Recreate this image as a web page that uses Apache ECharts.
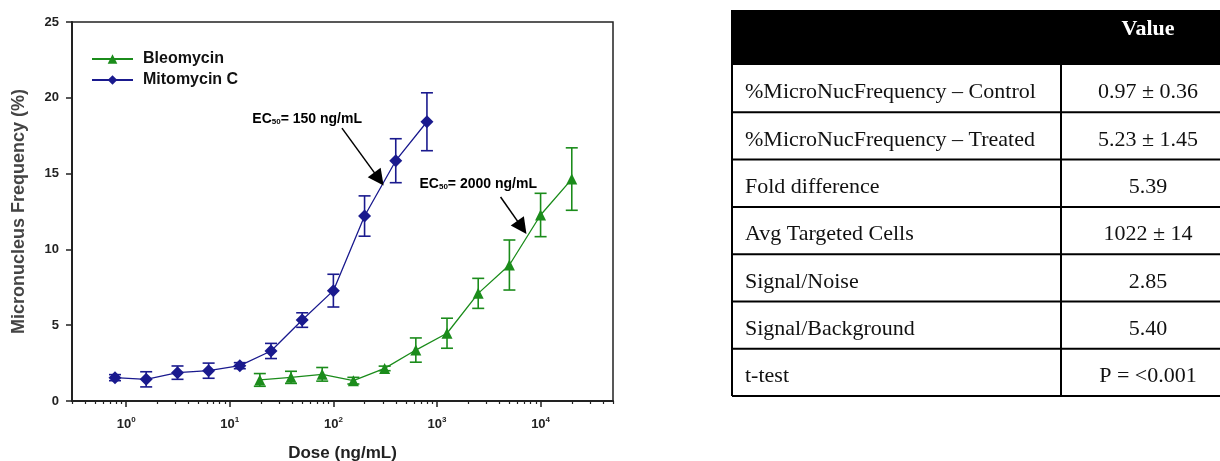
<!DOCTYPE html>
<html><head><meta charset="utf-8">
<script src="https://cdn.jsdelivr.net/npm/echarts@6/dist/echarts.min.js"></script>
<style>html,body{margin:0;padding:0;background:#fff}#c{width:1220px;height:461px}</style>
</head><body><div id="c"></div>
<script>
// ---- chart data ----
const bleoName = 'Bleomycin';
const bleoDose = [19.5, 39, 78, 156, 312.5, 625, 1250, 2500, 5000, 10000, 20000];
const bleoMean = [1.39, 1.56, 1.76, 1.34, 2.15, 3.36, 4.47, 7.10, 8.97, 12.27, 14.64];
const bleoErr  = [0.42, 0.40, 0.45, 0.22, 0.15, 0.80, 0.99, 0.99, 1.65, 1.43, 2.06];
const mitoName = 'Mitomycin C';
const mitoDose = [0.78, 1.56, 3.13, 6.25, 12.5, 25, 50, 100, 200, 400, 800];
const mitoMean = [1.54, 1.43, 1.87, 2.00, 2.33, 3.30, 5.34, 7.28, 12.20, 15.85, 18.42];
const mitoErr  = [0.20, 0.50, 0.44, 0.50, 0.20, 0.50, 0.48, 1.08, 1.33, 1.45, 1.91];
const yTickValues = [0, 5, 10, 15, 20, 25];
const xMajorTicks = [1, 10, 100, 1000, 10000];
const xTickExponents = ['0', '1', '2', '3', '4'];
const ec50Labels = ['150 ng/mL', '2000 ng/mL'];
// ---- table data ----
const tableHeader = ['', 'Value'];
const tableLabels = ['%MicroNucFrequency – Control', '%MicroNucFrequency – Treated', 'Fold difference',
  'Avg Targeted Cells', 'Signal/Noise', 'Signal/Background', 't-test'];
const tableValues = ['0.97 ± 0.36', '5.23 ± 1.45', '5.39', '1022 ± 14', '2.85', '5.40', 'P = <0.001'];

// ---- styles / layout ----
const GREEN = '#1b8c1b', BLUE = '#1a1a8e';
const SANS = 'Liberation Sans, Arial, sans-serif';
const SERIF = 'Liberation Serif, Times New Roman, serif';
const X_MIN = 0.3, X_MAX = 50000;

const xMinorTicks = [];
for (let k = -1; k <= 4; k++) for (let m = 2; m <= 9; m++) {
  const v = m * Math.pow(10, k);
  if (v >= X_MIN && v <= X_MAX) xMinorTicks.push(+v.toPrecision(3));
}

function pairs(xs, ys) { return xs.map((x, i) => [x, ys[i]]); }
function errData(xs, ys, es) { return xs.map((x, i) => [x, ys[i] - es[i], ys[i] + es[i]]); }
function errRender(color) {
  return function (params, api) {
    const x = api.value(0);
    const pLo = api.coord([x, api.value(1)]);
    const pHi = api.coord([x, api.value(2)]);
    const w = 6;
    const st = { stroke: color, lineWidth: 1.6 };
    return { type: 'group', children: [
      { type: 'line', shape: { x1: pLo[0], y1: pLo[1], x2: pHi[0], y2: pHi[1] }, style: st },
      { type: 'line', shape: { x1: pLo[0] - w, y1: pLo[1], x2: pLo[0] + w, y2: pLo[1] }, style: st },
      { type: 'line', shape: { x1: pHi[0] - w, y1: pHi[1], x2: pHi[0] + w, y2: pHi[1] }, style: st }
    ] };
  };
}

const ecRich = { sub: { fontSize: 8, fontWeight: 'bold', fontFamily: SANS, color: '#000', verticalAlign: 'bottom', padding: [6, 0, 0, 0] } };
function ecLabel(t) {
  return { show: true, position: 'right', distance: 0, color: '#000', fontSize: 14, fontWeight: 'bold',
    fontFamily: SANS, formatter: 'EC{sub|50}= ' + t, rich: ecRich };
}
function arrowLine(from, to) {
  return { silent: true, symbol: ['none', 'triangle'], symbolSize: 16, animation: false,
    lineStyle: { color: '#000', width: 1.5, type: 'solid' }, label: { show: false },
    itemStyle: { color: '#000' },
    data: [[{ coord: from }, { coord: to }]] };
}

// ---- table graphics ----
const T = { left: 732, right: 1220, top: 10, headBottom: 65, rowH: 47.3, colX: 1061, valX: 1148, textX: 745 };
const tableGraphics = [];
tableGraphics.push({ type: 'rect', shape: { x: T.left, y: T.top, width: T.right - T.left, height: T.headBottom - T.top }, style: { fill: '#000' } });
tableGraphics.push({ type: 'text', x: T.valX, y: 29, style: { text: tableHeader[1], fill: '#fff', font: 'bold 22px ' + SERIF, textAlign: 'center', textVerticalAlign: 'middle' } });
const bottomY = T.headBottom + T.rowH * tableLabels.length;
tableGraphics.push({ type: 'line', shape: { x1: T.left, y1: T.top, x2: T.left, y2: bottomY }, style: { stroke: '#000', lineWidth: 2 } });
tableGraphics.push({ type: 'line', shape: { x1: T.colX, y1: T.headBottom, x2: T.colX, y2: bottomY }, style: { stroke: '#000', lineWidth: 2 } });
tableLabels.forEach((lab, i) => {
  const y0 = T.headBottom + T.rowH * i;
  tableGraphics.push({ type: 'line', shape: { x1: T.left, y1: y0 + T.rowH, x2: T.right, y2: y0 + T.rowH }, style: { stroke: '#000', lineWidth: 2 } });
  tableGraphics.push({ type: 'text', x: T.textX, y: y0 + T.rowH / 2 + 4, style: { text: lab, fill: '#111', font: '22px ' + SERIF, textAlign: 'left', textVerticalAlign: 'middle' } });
  tableGraphics.push({ type: 'text', x: T.valX, y: y0 + T.rowH / 2 + 4, style: { text: tableValues[i], fill: '#111', font: '22px ' + SERIF, textAlign: 'center', textVerticalAlign: 'middle' } });
});

const chart = echarts.init(document.getElementById('c'), null, { renderer: 'canvas' });
chart.setOption({
  animation: false,
  backgroundColor: '#fff',
  textStyle: { fontFamily: SANS },
  grid: { left: 72, right: 607, top: 22, bottom: 60, show: true, borderColor: '#222', borderWidth: 1.5,
    backgroundColor: 'transparent', containLabel: false, outerBoundsMode: 'none' },
  legend: {
    data: [bleoName, mitoName], orient: 'vertical', left: 86, top: 46,
    itemWidth: 41, itemHeight: 12, itemGap: 5,
    textStyle: { fontSize: 16, fontWeight: 'bold', color: '#111', fontFamily: SANS, padding: [0, 0, 0, 5] }
  },
  xAxis: [{
    type: 'log', logBase: 10, min: X_MIN, max: X_MAX,
    name: 'Dose (ng/mL)', nameLocation: 'middle', nameGap: 44,
    nameTextStyle: { fontSize: 17, fontWeight: 'bold', color: '#222', fontFamily: SANS },
    axisLine: { show: true, lineStyle: { color: '#222', width: 2 } },
    axisTick: { show: true, inside: false, length: 6, lineStyle: { color: '#222', width: 1.5 }, customValues: xMajorTicks },
    axisLabel: {
      show: true, margin: 15, customValues: xMajorTicks, color: '#222',
      fontSize: 13, fontWeight: 'bold', fontFamily: SANS,
      formatter: v => '10{s|' + xTickExponents[xMajorTicks.indexOf(v)] + '}',
      rich: { s: { fontSize: 8, fontWeight: 'bold', fontFamily: SANS, color: '#222', verticalAlign: 'top', padding: [0, 0, 8, 0] } }
    },
    splitLine: { show: false }, minorTick: { show: false }
  }, {
    type: 'log', logBase: 10, min: X_MIN, max: X_MAX, position: 'bottom', gridIndex: 0,
    axisLine: { show: false },
    axisTick: { show: true, inside: false, length: 3, lineStyle: { color: '#222', width: 1.2 }, customValues: xMinorTicks },
    axisLabel: { show: false }, splitLine: { show: false }
  }],
  yAxis: {
    type: 'value', min: 0, max: 25, interval: 5,
    name: 'Micronucleus Frequency (%)', nameLocation: 'middle', nameGap: 44,
    nameTextStyle: { fontSize: 18, fontWeight: 'bold', color: '#444', fontFamily: SANS },
    axisLine: { show: true, lineStyle: { color: '#222', width: 2 } },
    axisTick: { show: true, inside: false, length: 6, lineStyle: { color: '#222', width: 1.5 }, customValues: yTickValues },
    axisLabel: { margin: 13, color: '#222', fontSize: 13, fontWeight: 'bold', fontFamily: SANS, customValues: yTickValues },
    splitLine: { show: false }
  },
  series: [
    { name: bleoName + ' SEM', type: 'custom', renderItem: errRender(GREEN), data: errData(bleoDose, bleoMean, bleoErr),
      encode: { x: 0, y: [1, 2] }, z: 2, silent: true },
    { name: mitoName + ' SEM', type: 'custom', renderItem: errRender(BLUE), data: errData(mitoDose, mitoMean, mitoErr),
      encode: { x: 0, y: [1, 2] }, z: 2, silent: true },
    { name: bleoName, type: 'line', data: pairs(bleoDose, bleoMean), symbol: 'triangle', symbolSize: 11,
      itemStyle: { color: GREEN }, lineStyle: { color: GREEN, width: 1.3 }, z: 3,
      markLine: arrowLine([4110, 13.46], [6600, 11.45]),
      markPoint: { silent: true, symbol: 'circle', symbolSize: 0, animation: false,
        data: [{ coord: [678, 14.3], label: ecLabel(ec50Labels[1]) }] } },
    { name: mitoName, type: 'line', data: pairs(mitoDose, mitoMean), symbol: 'diamond', symbolSize: 13,
      itemStyle: { color: BLUE }, lineStyle: { color: BLUE, width: 1.3 }, z: 3,
      markLine: arrowLine([121, 18.0], [275, 14.65]),
      markPoint: { silent: true, symbol: 'circle', symbolSize: 0, animation: false,
        data: [{ coord: [16.5, 18.6], label: ecLabel(ec50Labels[0]) }] } }
  ],
  graphic: tableGraphics
});
</script></body></html>
